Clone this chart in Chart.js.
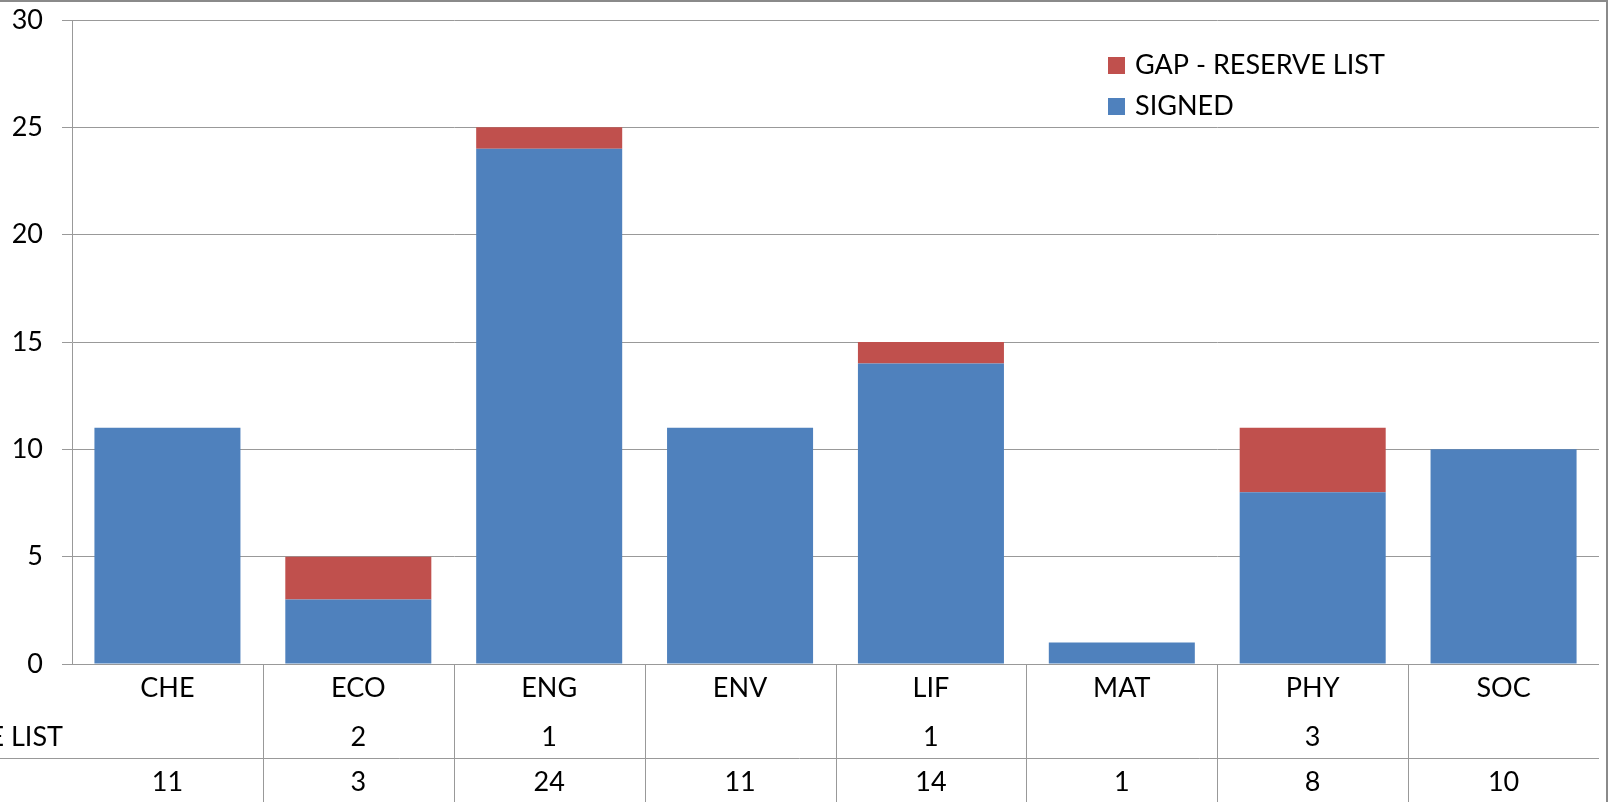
<!DOCTYPE html>
<html>
<head>
<meta charset="utf-8">
<script src="https://cdn.jsdelivr.net/npm/chart.js@4"></script>
<style>
html,body{margin:0;padding:0;background:#fff;}
canvas{display:block;}
</style>
</head>
<body>
<canvas id="c" width="1610" height="802"></canvas>
<script>
const categories = ['CHE','ECO','ENG','ENV','LIF','MAT','PHY','SOC'];
const signedValues = [11,3,24,11,14,1,8,10];
const gapReserveValues = [null,2,1,null,1,null,3,null];
const seriesSigned = 'SIGNED';
const seriesGap = 'GAP - RESERVE LIST';
const yMin = 0, yMax = 30, yStep = 5;

const BLUE = '#4F81BD';
const RED = '#C0504D';
const GRID = '#999999';
const FONT = 'Lato';
const FS = 27;

const tablePlugin = {
  id: 'tbl',
  beforeDraw(chart) {
    const ctx = chart.ctx;
    ctx.save();
    ctx.fillStyle = '#fff';
    ctx.fillRect(0, 0, chart.width, chart.height);
    ctx.restore();
  },
  afterDraw(chart) {
    const ctx = chart.ctx, xs = chart.scales.x, area = chart.chartArea;
    const n = chart.data.labels.length;
    ctx.save();
    ctx.strokeStyle = GRID;
    ctx.lineWidth = 1;
    for (let i = 1; i < n; i++) {
      const px = Math.round((xs.getPixelForValue(i - 1) + xs.getPixelForValue(i)) / 2) + 0.5;
      ctx.beginPath(); ctx.moveTo(px, area.bottom); ctx.lineTo(px, chart.height); ctx.stroke();
    }
    const rowLineY = 758.5;
    ctx.beginPath(); ctx.moveTo(0, rowLineY); ctx.lineTo(area.right, rowLineY); ctx.stroke();

    const dsSigned = chart.data.datasets[0], dsGap = chart.data.datasets[1];
    const rows = [{ds: dsGap, y: 737}, {ds: dsSigned, y: 782}];
    ctx.font = FS + 'px ' + FONT;
    ctx.fillStyle = '#000';
    ctx.textBaseline = 'middle';
    ctx.textAlign = 'center';
    rows.forEach(r => {
      r.ds.data.forEach((v, i) => {
        if (v !== null && v !== undefined) ctx.fillText(String(v), xs.getPixelForValue(i), r.y);
      });
    });
    // row labels (left-aligned column, partly outside the picture)
    const wMax = Math.max(...rows.map(r => ctx.measureText(r.ds.label).width));
    ctx.textAlign = 'left';
    rows.forEach(r => ctx.fillText(r.ds.label, 63 - wMax, r.y));

    // legend
    const items = [{ds: dsGap, y: 65.5}, {ds: dsSigned, y: 106.5}];
    items.forEach(it => {
      ctx.fillStyle = it.ds.backgroundColor;
      ctx.fillRect(1108, it.y - 8.5, 17, 17);
      ctx.fillStyle = '#000';
      ctx.fillText(it.ds.label, 1135, it.y);
    });

    // frame
    ctx.fillStyle = '#8a8a8a';
    ctx.fillRect(0, 0, chart.width - 3, 2);
    ctx.fillRect(1606, 0, 2, chart.height);
    ctx.restore();
  }
};

new Chart(document.getElementById('c'), {
  type: 'bar',
  data: {
    labels: categories,
    datasets: [
      {label: seriesSigned, data: signedValues, backgroundColor: BLUE, borderWidth: 0,
       categoryPercentage: 1, barPercentage: 0.765},
      {label: seriesGap, data: gapReserveValues, backgroundColor: RED, borderWidth: 0,
       categoryPercentage: 1, barPercentage: 0.765}
    ]
  },
  options: {
    responsive: false,
    animation: false,
    layout: {padding: {top: 20, right: 11, left: 0, bottom: 0}},
    plugins: {legend: {display: false}, tooltip: {enabled: false}},
    scales: {
      x: {
        stacked: true,
        grid: {display: false, drawTicks: false},
        border: {display: false},
        ticks: {color: '#000', font: {family: FONT, size: FS}, padding: 8, maxRotation: 0, autoSkip: false},
        afterFit(scale) { scale.height = 138; scale.paddingLeft = 0; scale.paddingRight = 0; }
      },
      y: {
        stacked: true,
        min: yMin, max: yMax,
        grid: {color: GRID, tickColor: GRID, tickLength: 10, drawTicks: true},
        border: {display: true, color: GRID},
        ticks: {stepSize: yStep, color: '#000', font: {family: FONT, size: FS}, padding: 19},
        afterFit(scale) { scale.width = 72; scale.paddingTop = 0; scale.paddingBottom = 0; }
      }
    }
  },
  plugins: [tablePlugin]
});
</script>
</body>
</html>
